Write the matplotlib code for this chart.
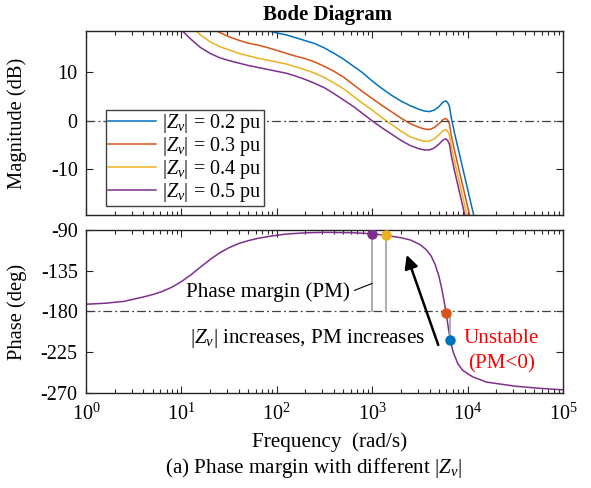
import numpy as np
import matplotlib
matplotlib.use("Agg")
import matplotlib.pyplot as plt
from matplotlib.ticker import LogLocator, NullFormatter

plt.rcParams['font.family'] = ['Liberation Serif', 'DejaVu Serif']
plt.rcParams['mathtext.fontset'] = 'custom'
plt.rcParams['mathtext.rm'] = 'Liberation Serif'
plt.rcParams['mathtext.it'] = 'Liberation Serif:italic'
plt.rcParams['axes.unicode_minus'] = False

# frequency grid (log10 of rad/s) for the magnitude curves
mag_logf = [1.0, 1.1, 1.2, 1.3, 1.4, 1.5, 1.6, 1.7, 1.8, 1.9, 2.0, 2.1, 2.2, 2.3, 2.4,
            2.5, 2.6, 2.7, 2.8, 2.9, 3.0, 3.1, 3.2, 3.3, 3.4, 3.5, 3.55, 3.6, 3.65,
            3.7, 3.74, 3.77, 3.79, 3.81, 3.83, 3.86, 3.9, 3.95, 4.0, 4.1]
mag_02 = [24.5, 23.7, 23.0, 22.3, 21.7, 21.1, 20.5, 19.9, 19.3, 18.6, 18.1, 17.7, 17.1,
          16.5, 15.9, 15.0, 13.9, 12.7, 11.3, 9.9, 8.2, 6.7, 5.3, 4.1, 3.1, 2.3, 2.0,
          1.9, 2.2, 2.9, 3.8, 4.1, 3.8, 3.0, 0.6, -2.2, -5.6, -9.8, -14.0, -22.4]
mag_03 = [22.5, 21.3, 20.2, 19.2, 18.2, 17.3, 16.6, 16.0, 15.6, 15.1, 14.5, 13.9, 13.3,
          12.8, 12.1, 11.2, 10.2, 9.0, 7.5, 6.0, 4.6, 3.2, 1.9, 0.6, -0.6, -1.4, -1.7,
          -1.8, -1.4, -0.6, 0.2, 0.5, 0.2, -0.6, -3.0, -5.8, -9.2, -13.4, -17.6, -26.0]
mag_04 = [21.5, 19.5, 17.7, 16.3, 15.3, 14.6, 13.9, 13.4, 12.9, 12.5, 12.1, 11.7, 11.1,
          10.5, 9.8, 8.9, 7.8, 6.6, 5.1, 3.6, 2.2, 0.7, -0.7, -2.1, -3.3, -4.0, -4.2,
          -4.2, -3.7, -2.9, -2.1, -1.8, -2.1, -2.9, -5.3, -8.1, -11.5, -15.7, -19.9, -28.3]
mag_05 = [18.7, 16.8, 15.1, 13.9, 13.0, 12.4, 11.9, 11.4, 11.0, 10.6, 10.2, 9.8, 9.2,
          8.5, 7.7, 6.8, 5.6, 4.3, 3.0, 1.5, 0.0, -1.4, -2.7, -4.0, -5.1, -5.8, -6.0,
          -6.0, -5.6, -4.8, -4.0, -3.7, -4.0, -4.8, -7.2, -10.0, -13.4, -17.6, -21.8, -30.2]
zv_labels = ['0.2', '0.3', '0.4', '0.5']
colors = ['#0072BD', '#D95319', '#EDB120', '#7E2F8E']

# phase (same for all |Zv|)
ph_logf = [0.0, 0.2, 0.4, 0.6, 0.7, 0.8, 0.9, 1.0, 1.1, 1.2, 1.3, 1.4, 1.5, 1.6, 1.7,
           1.8, 1.9, 2.0, 2.1, 2.3, 2.5, 2.8, 3.0, 3.15, 3.3, 3.4, 3.5, 3.57, 3.62, 3.66,
           3.7, 3.73, 3.76, 3.78, 3.8, 3.82, 3.85, 3.9, 3.95, 4.05, 4.2, 4.5, 4.75, 5.0]
phase = [-172, -170.9, -168.8, -164.0, -161.3, -157.8, -153.2, -147.0, -139.5, -131.0,
         -122.7, -115.3, -109.5, -105, -101.8, -99.3, -97.4, -95.8, -94.5, -93.1, -92.6,
         -93, -94.2, -96, -98.5, -101, -106, -112, -119, -128, -141, -155, -172, -185,
         -199, -212, -225, -238, -245, -252, -258, -262.5, -264.8, -266.5]

# crossover points (freq, phase) per |Zv|
cross_f = [6610, 5960, 1400, 1005]
cross_ph = [-212, -182, -96, -94.2]

FS = 15.2


def main():
    fig = plt.figure(figsize=(5.91, 4.88), dpi=100)
    ax1 = fig.add_axes([0.1455, 0.5594, 0.807, 0.3771])
    ax2 = fig.add_axes([0.1455, 0.1947, 0.807, 0.3340])

    f_mag = 10 ** np.array(mag_logf)
    for vals, lab, c in zip([mag_02, mag_03, mag_04, mag_05], zv_labels, colors):
        ax1.plot(f_mag, vals, color=c, lw=1.1, label=r'$|Z_v|$ = ' + lab + ' pu')
    ax1.axhline(0, color='#404040', lw=0.9, dashes=(7, 2.5, 1.5, 2.5))

    f_ph = 10 ** np.array(ph_logf)
    ax2.plot(f_ph, phase, color=colors[3], lw=1.1)
    ax2.axhline(-180, color='#404040', lw=0.9, dashes=(7, 2.5, 1.5, 2.5))

    # phase margin lines and points
    for f, p in zip(cross_f, cross_ph):
        ax2.plot([f, f], [-180, p], color='#a6a6a6', lw=1.3, zorder=2)
    for f, p, c in zip(cross_f, cross_ph, colors):
        ax2.plot(f, p, 'o', color=c, ms=6.5, zorder=4)

    ax2.annotate('Phase margin (PM)', xy=(1000, -149), xytext=(590, -158.5),
                 ha='right', va='center', fontsize=FS,
                 arrowprops=dict(arrowstyle='-', lw=0.8, color='k',
                                 shrinkA=1, shrinkB=0, relpos=(1, 0.5)))
    ax2.annotate('', xy=(2300, -117.5), xytext=(4930, -217),
                 arrowprops=dict(arrowstyle='-|>', lw=1.8, color='k',
                                 mutation_scale=20, shrinkA=0, shrinkB=0))
    ax2.text(3570, -210, r'$|Z_v|$ increases, PM increases', ha='right', va='center',
             fontsize=FS)
    ax2.text(22650, -210, 'Unstable', ha='center', va='center', color='red', fontsize=FS)
    ax2.text(22650, -237.5, '(PM<0)', ha='center', va='center', color='red', fontsize=FS)

    for ax in (ax1, ax2):
        ax.set_xscale('log')
        ax.set_xlim(1, 1e5)
        ax.xaxis.set_major_locator(LogLocator(base=10, numticks=10))
        ax.xaxis.set_minor_locator(LogLocator(base=10, subs=np.arange(2, 10), numticks=10))
        ax.xaxis.set_minor_formatter(NullFormatter())
        ax.tick_params(which='both', direction='in', top=True, right=True,
                       labelsize=14.5, color='#262626', width=0.8)
        ax.tick_params(which='major', length=5, pad=6)
        ax.tick_params(which='minor', length=3)
        ax.tick_params(axis='x', which='major', pad=8)
        for s in ax.spines.values():
            s.set_color('#262626')
            s.set_linewidth(1.0)

    ax1.set_ylim(-19.4, 18.5)
    ax1.set_yticks([-10, 0, 10])
    ax1.tick_params(labelbottom=False)
    ax1.set_ylabel('Magnitude (dB)', fontsize=14.8)
    ax1.yaxis.set_label_coords(-0.124, 0.5)

    ax2.set_ylim(-270, -90)
    ax2.set_yticks([-270, -225, -180, -135, -90])
    ax2.set_ylabel('Phase (deg)', fontsize=14.8)
    ax2.yaxis.set_label_coords(-0.124, 0.5)
    ax2.set_xlabel('Frequency  (rad/s)', fontsize=FS)
    ax2.xaxis.set_label_coords(0.51, -0.24)

    leg = ax1.legend(loc='upper left', bbox_to_anchor=(0.042, 0.571), borderaxespad=0,
                     fontsize=14.5, frameon=True, fancybox=False, framealpha=1,
                     edgecolor='#404040', handlelength=2.4, handletextpad=0.3,
                     labelspacing=0.0, borderpad=0.1)
    leg.get_frame().set_linewidth(1.0)

    fig.text(328 / 591, 1 - 15 / 488, 'Bode Diagram', ha='center', va='center',
             fontsize=15, fontweight='bold')
    fig.text(313 / 591, 1 - 468 / 488, r'(a) Phase margin with different $|Z_v|$',
             ha='center', va='center', fontsize=FS)

    fig.savefig('out.png', dpi=100)


if __name__ == '__main__':
    main()
